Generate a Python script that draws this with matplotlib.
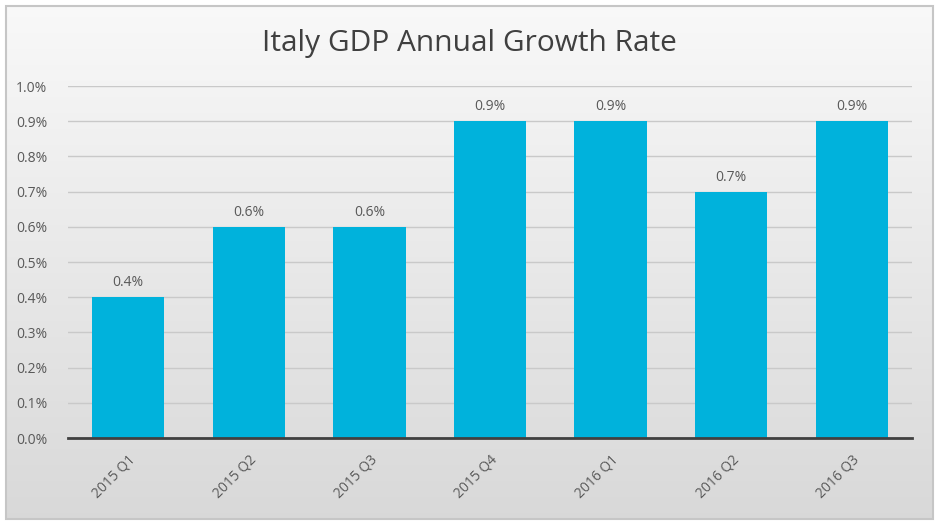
import numpy as np
import matplotlib
matplotlib.use('Agg')
import matplotlib.pyplot as plt
from matplotlib.patches import Rectangle
from matplotlib.ticker import FuncFormatter

quarters = ['2015 Q1', '2015 Q2', '2015 Q3', '2015 Q4', '2016 Q1', '2016 Q2', '2016 Q3']
growth = [0.4, 0.6, 0.6, 0.9, 0.9, 0.7, 0.9]
y_ticks = [0.0, 0.1, 0.2, 0.3, 0.4, 0.5, 0.6, 0.7, 0.8, 0.9, 1.0]

plt.rcParams['font.family'] = ['Open Sans', 'DejaVu Sans']

fig = plt.figure(figsize=(9.4, 5.25), dpi=100)

# background panel with vertical gradient and grey border
bg = fig.add_axes([0, 0, 1, 1], zorder=0)
bg.set_xlim(0, 940)
bg.set_ylim(525, 0)
bg.axis('off')
grad = np.linspace(0, 1, 256).reshape(-1, 1)
top = np.array([0.975, 0.975, 0.975])
bottom = np.array([0.85, 0.85, 0.85])
img = top + grad[..., None] * (bottom - top)
img = img * np.ones((1, 2, 1))
bg.imshow(img, extent=[6, 932, 518, 6], aspect='auto', interpolation='bilinear')
bg.add_patch(Rectangle((5.5, 5.5), 927, 513, fill=False, edgecolor='#c6c6c6', lw=1.5))

ax = fig.add_axes([68 / 940, 1 - 438 / 525, (912 - 68) / 940, (438 - 86) / 525], zorder=1)
ax.patch.set_alpha(0)

x = np.arange(len(quarters))
bars = ax.bar(x, growth, width=0.6, color='#00b2dc', zorder=3)

for xi, v in zip(x, growth):
    ax.text(xi, v + 0.02, f'{v:.1f}%', ha='center', va='bottom',
            fontsize=10, color='#595959', zorder=4)

ax.set_xlim(-0.5, len(quarters) - 0.5)
ax.set_ylim(0, 1.0)
ax.set_yticks(y_ticks)
ax.yaxis.set_major_formatter(FuncFormatter(lambda v, p: f'{v:.1f}%'))
ax.grid(axis='y', color='#c9c9c9', lw=1, zorder=0)
ax.set_xticks(x)
ax.set_xticklabels(quarters, rotation=45, ha='right', rotation_mode='anchor')
ax.tick_params(axis='both', length=0, labelsize=10, colors='#595959')
ax.tick_params(axis='x', pad=10)
ax.tick_params(axis='y', pad=15)
for s in ['top', 'right', 'left']:
    ax.spines[s].set_visible(False)
ax.spines['bottom'].set_color('#404040')
ax.spines['bottom'].set_linewidth(2)
ax.spines['bottom'].set_zorder(5)

fig.text(469 / 940, 1 - 44 / 525, 'Italy GDP Annual Growth Rate', ha='center', va='center',
         fontsize=21.5, color='#404040')

fig.savefig('out.png', dpi=100)
